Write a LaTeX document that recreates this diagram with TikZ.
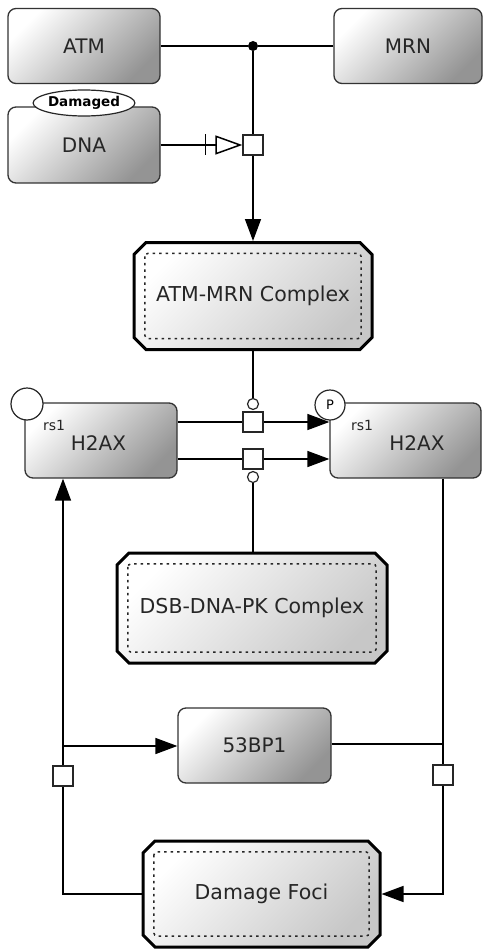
\documentclass[tikz,border=0pt]{standalone}
\usepackage{fontspec}
\setmainfont{DejaVu Sans}
\usetikzlibrary{arrows.meta,shapes.misc,shapes.geometric}

\begin{document}
\begin{tikzpicture}[x=1pt,y=-1pt,
  molbox/.style={draw=black!80, line width=1.3pt, rounded corners=8pt, top color=white, bottom color=black!42, shading angle=45, minimum width=152pt, minimum height=75pt, inner sep=0pt, text=black!85, font=\fontsize{20}{24}\selectfont},
  cplxbox/.style={chamfered rectangle, chamfered rectangle xsep=6pt, chamfered rectangle ysep=6pt, draw=black, line width=3pt, top color=white, bottom color=black!22, shading angle=45, inner sep=0pt, text=black!85, font=\fontsize{20.5}{24}\selectfont},
  innerline/.style={draw=black!85, line width=1.5pt, dash pattern=on 2.5pt off 4pt, rounded corners=3pt},
  link/.style={draw=black, line width=1.5pt},
  arr/.style={link, -{Triangle[length=22pt,width=16pt]}},
  stim/.style={link, -{Bar[width=21pt,sep=9pt] Triangle[open,length=27pt,width=19pt]}},
  proc/.style={draw=black!85, fill=white, line width=1.3pt, minimum size=20pt, inner sep=0pt},
  cat/.style={circle, draw=black!85, fill=white, line width=1.2pt, minimum size=11pt, inner sep=0pt},
  svar/.style={circle, draw=black!85, fill=white, line width=1.2pt, inner sep=0pt, font=\fontsize{13}{14}\selectfont},
  varname/.style={inner sep=0pt, text=black!85, font=\fontsize{14}{15}\selectfont}]

\useasboundingbox (0,0) rectangle (484,952);

% molecules
\node[molbox] (atm) at (84,46) {ATM};
\node[molbox, minimum width=148pt] (mrn) at (408,46) {MRN};
\node[molbox, minimum height=76pt] (dna) at (84,145) {DNA};
\node[ellipse, draw=black!85, fill=white, line width=1.2pt, minimum width=94pt, minimum height=26pt, inner sep=0pt, font=\bfseries\fontsize{13.5}{15}\selectfont] (dmg) at (84,103) {Damaged};

% complexes
\node[cplxbox, minimum width=238pt, minimum height=107pt] (atmmrn) at (253,296) {ATM-MRN Complex};
\node[cplxbox, minimum width=270pt, minimum height=110pt] (dsbpk) at (252,608) {DSB-DNA-PK Complex};
\node[cplxbox, minimum width=237pt, minimum height=106pt] (foci) at (261.5,894) {Damage Foci};
\foreach \c in {atmmrn,dsbpk,foci}
  \draw[innerline] ([shift={(6,6)}]\c.north west) rectangle ([shift={(-6,-6)}]\c.south east);

% H2AX
\node[molbox] (h2axA) at (101,440.5) {};
\node[molbox, minimum width=151pt] (h2axB) at (405.5,440.5) {};
\node[varname] (rsA) at (54,425) {rs1};
\node[varname] (rsB) at (362,425) {rs1};
\node[inner sep=0pt, text=black!85, font=\fontsize{20}{24}\selectfont] (nameA) at (98.5,443) {H2AX};
\node[inner sep=0pt, text=black!85, font=\fontsize{20}{24}\selectfont] (nameB) at (417,443) {H2AX};
\node[svar, minimum size=32pt] (svA) at (27,404) {};
\node[svar, minimum size=30pt] (svB) at (330,405) {P};

\node[molbox, minimum width=153pt] (bp) at (254.5,745.5) {53BP1};

% junction and processes
\node[circle, fill=black, minimum size=10pt, inner sep=0pt] (jn) at (253,46) {};
\node[proc] (pA) at (253,145) {};
\node[proc] (pB) at (253,422) {};
\node[proc] (pC) at (253,459) {};
\node[proc] (pD) at (63,776) {};
\node[proc] (pE) at (443,775) {};
\node[cat] (catA) at (253,404) {};
\node[cat] (catB) at (253,477) {};
\coordinate (br) at (63,746);
\coordinate (bq) at (443,744);

% association
\draw[link] (atm.east) -- (jn);
\draw[link] (mrn.west) -- (jn);
\draw[link] (jn) -- (pA.north);
\draw[stim] (dna.east) -- (pA.west);
\draw[arr] (pA.south) -- (atmmrn.north);

% phosphorylation
\draw[link] (atmmrn.south) -- (catA.north);
\draw[link] (h2axA.east |- pB) -- (pB.west);
\draw[arr] (pB.east) -- (h2axB.west |- pB);
\draw[link] (h2axA.east |- pC) -- (pC.west);
\draw[arr] (pC.east) -- (h2axB.west |- pC);
\draw[link] (catB.south) -- (catB |- dsbpk.north);

% foci
\draw[link] (pE |- h2axB.south) -- (pE.north);
\draw[link] (bp.east |- bq) -- (bq);
\draw[arr] (pE.south) |- (foci.east);
\draw[link] (foci.west) -| (pD.south);
\draw[link] (pD.north) -- (br);
\draw[arr] (br) -- (br -| bp.west);
\draw[arr] (br) -- (br |- h2axA.south);
\end{tikzpicture}
\end{document}
